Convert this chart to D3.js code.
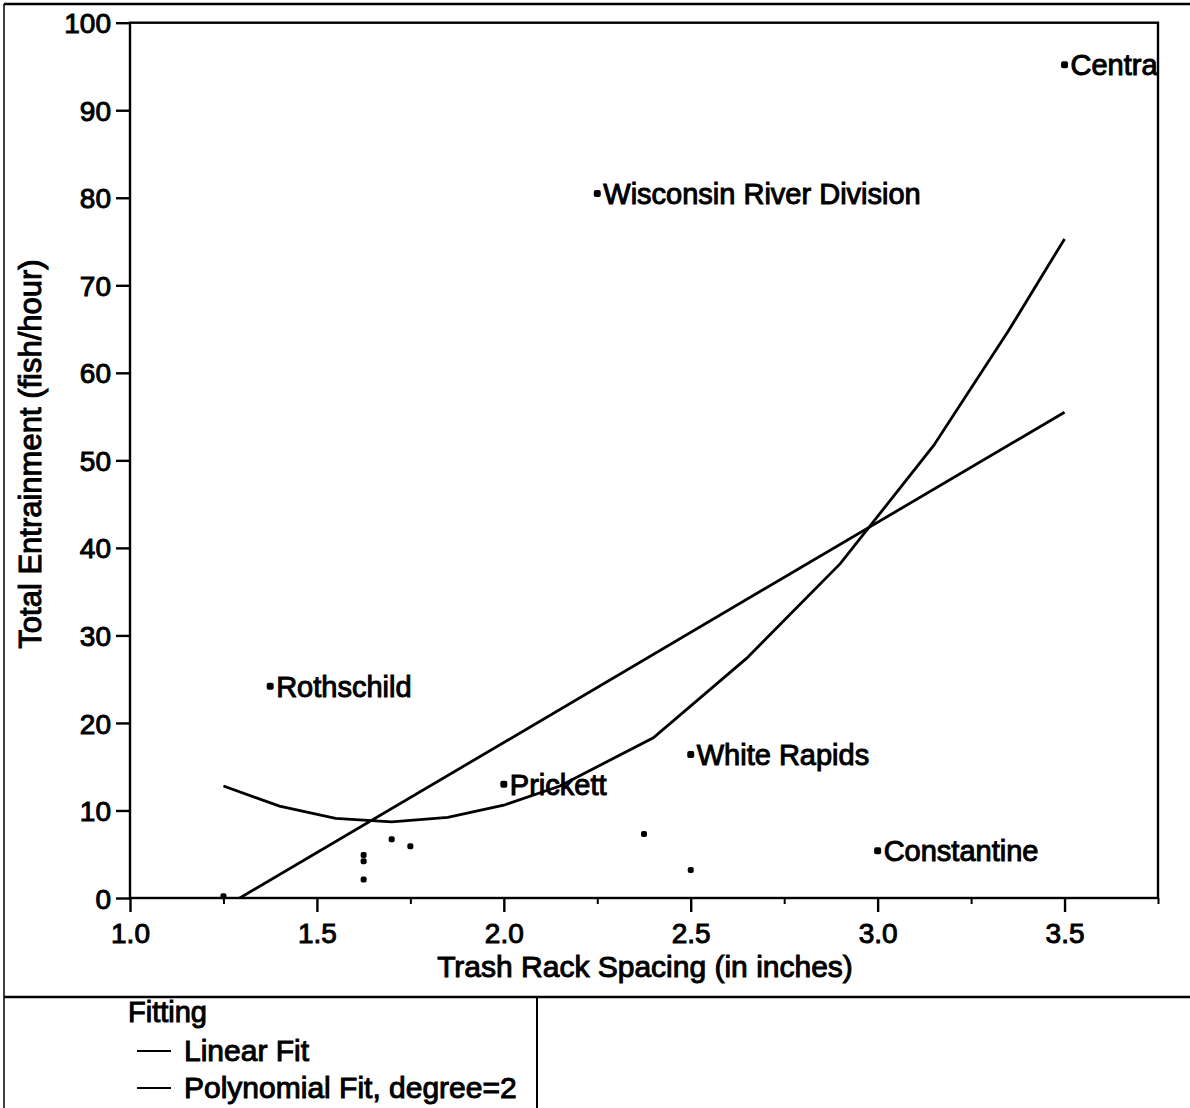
<!DOCTYPE html>
<html><head><meta charset="utf-8">
<script src="https://cdn.jsdelivr.net/npm/d3@7"></script>
<style>
html,body{margin:0;padding:0;background:#fff;}
svg{display:block;}
text{font-family:"Liberation Sans",Arial,Helvetica,sans-serif;fill:#000;}
</style></head>
<body>
<script>
// ---- data ----
const labelNames = ["Rothschild","Prickett","White Rapids","Constantine","Wisconsin River Division","Centra"];
const labelX = [1.375, 2.0, 2.5, 3.0, 2.25, 3.5];
const labelY = [24.2, 13.0, 16.4, 5.4, 80.5, 95.2];
const otherX = [1.25, 1.625, 1.625, 1.625, 1.7, 1.75, 2.375, 2.5];
const otherY = [0.2, 4.9, 4.2, 2.1, 6.7, 5.9, 7.3, 3.2];
const linearFitX = [1.25, 3.5];
const linearFitY = [-1.1, 55.5];
const polyFitX = [1.25, 1.4, 1.55, 1.7, 1.85, 2.0, 2.15, 2.4, 2.65, 2.9, 3.15, 3.35, 3.5];
const polyFitY = [12.8, 10.5, 9.1, 8.7, 9.2, 10.6, 12.8, 18.3, 27.4, 38.2, 51.7, 64.8, 75.3];
const xTicks = [1.0, 1.5, 2.0, 2.5, 3.0, 3.5];
const xMinorTicks = [1.25, 1.75, 2.25, 2.75, 3.25, 3.75];
const yTicks = [0,10,20,30,40,50,60,70,80,90,100];
const xTitle = "Trash Rack Spacing (in inches)";
const yTitle = "Total Entrainment (fish/hour)";
const legendTitle = "Fitting";
const legendItems = ["Linear Fit", "Polynomial Fit, degree=2"];

// ---- layout ----
const W = 1190, H = 1108;
const L = 130, R = 1158, T = 22.7, B = 898;
const svg = d3.select("body").append("svg").attr("width", W).attr("height", H);

const x = d3.scaleLinear().domain([1, 3.75]).range([L, R]);
const y = d3.scaleLinear().domain([0, 100]).range([B, T]);

const ink = "#000";
const heavy = 1.0;
// outer page frame
svg.append("line").attr("x1",4).attr("x2",W).attr("y1",4).attr("y2",4).attr("stroke",ink).attr("stroke-width",2.5);
svg.append("line").attr("x1",4).attr("x2",4).attr("y1",4).attr("y2",H).attr("stroke",ink).attr("stroke-width",1.5);
svg.append("line").attr("x1",4).attr("x2",W).attr("y1",997).attr("y2",997).attr("stroke",ink).attr("stroke-width",2.5);
svg.append("line").attr("x1",537).attr("x2",537).attr("y1",997).attr("y2",H).attr("stroke",ink).attr("stroke-width",2);

// plot frame
svg.append("rect").attr("x",L).attr("y",T).attr("width",R-L).attr("height",B-T)
  .attr("fill","none").attr("stroke",ink).attr("stroke-width",2.4);

// axes
const xAxis = d3.axisBottom(x).tickValues(xTicks).tickFormat(d3.format(".1f")).tickSize(14).tickPadding(4);
const gx = svg.append("g").attr("transform",`translate(0,${B})`).call(xAxis);
gx.select(".domain").remove();
gx.selectAll("line").attr("stroke",ink).attr("stroke-width",2.4);
gx.selectAll("text").attr("font-size",28).attr("dy",null).attr("y",45);

const xMinor = d3.axisBottom(x).tickValues(xMinorTicks).tickSize(6).tickFormat("");
const gxm = svg.append("g").attr("transform",`translate(0,${B})`).call(xMinor);
gxm.select(".domain").remove();
gxm.selectAll("line").attr("stroke",ink).attr("stroke-width",2);

const yAxis = d3.axisLeft(y).tickValues(yTicks).tickSize(14).tickPadding(6);
const gy = svg.append("g").attr("transform",`translate(${L},0)`).call(yAxis);
gy.select(".domain").remove();
gy.selectAll("line").attr("stroke",ink).attr("stroke-width",2.4);
gy.selectAll("text").attr("font-size",28).attr("x",-19).attr("dy","0.36em");

svg.selectAll(".tick text").attr("font-family",'"Liberation Sans",Arial,sans-serif').attr("fill",ink)
  .attr("stroke",ink).attr("stroke-width",heavy);

// axis titles
svg.append("text").attr("x",645).attr("y",977).attr("text-anchor","middle")
  .attr("font-size",30).attr("stroke",ink).attr("stroke-width",heavy).text(xTitle);
svg.append("text").attr("transform",`translate(41,454) rotate(-90)`).attr("text-anchor","middle")
  .attr("font-size",31).attr("stroke",ink).attr("stroke-width",heavy).text(yTitle);

// clip
svg.append("clipPath").attr("id","plotclip").append("rect")
  .attr("x",L).attr("y",T).attr("width",R-L).attr("height",B-T);

const line = d3.line().x(d=>x(d[0])).y(d=>y(d[1]));
const plot = svg.append("g").attr("clip-path","url(#plotclip)");
plot.append("path").datum(linearFitX.map((v,i)=>[v,linearFitY[i]]))
  .attr("d",line).attr("fill","none").attr("stroke",ink).attr("stroke-width",2.8);
plot.append("path").datum(polyFitX.map((v,i)=>[v,polyFitY[i]]))
  .attr("d",line).attr("fill","none").attr("stroke",ink).attr("stroke-width",2.8);

// unlabeled points
svg.append("g").selectAll("rect").data(otherX.map((v,i)=>[v,otherY[i]])).join("rect")
  .attr("x",d=>x(d[0])-3).attr("y",d=>y(d[1])-3).attr("width",6).attr("height",6)
  .attr("rx",2).attr("fill",ink);

// labeled points
const lp = svg.append("g").selectAll("g").data(labelNames.map((n,i)=>({n,x:labelX[i],y:labelY[i]}))).join("g")
  .attr("transform",d=>`translate(${x(d.x)},${y(d.y)})`);
lp.append("rect").attr("x",-3.5).attr("y",-3.5).attr("width",7).attr("height",7).attr("rx",2).attr("fill",ink);
lp.append("text").attr("x",6).attr("dy","0.36em").attr("font-size",29)
  .attr("stroke",ink).attr("stroke-width",heavy).text(d=>d.n);

// legend
svg.append("text").attr("x",128).attr("y",1022).attr("font-size",29)
  .attr("stroke",ink).attr("stroke-width",heavy).text(legendTitle);
const lg = svg.append("g").selectAll("g").data(legendItems).join("g")
  .attr("transform",(d,i)=>`translate(0,${1051 + i*37})`);
lg.append("line").attr("x1",137).attr("x2",171).attr("y1",0).attr("y2",0).attr("stroke",ink).attr("stroke-width",2.2);
lg.append("text").attr("x",184).attr("y",10).attr("font-size",30)
  .attr("stroke",ink).attr("stroke-width",heavy).text(d=>d);
</script>
</body></html>
